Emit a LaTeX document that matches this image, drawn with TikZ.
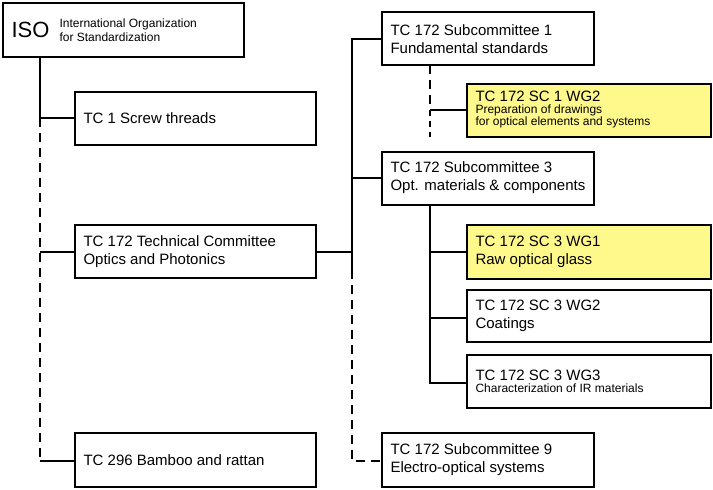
\documentclass[tikz,border=0pt]{standalone}
\usepackage{fontspec}
\setmainfont{Liberation Sans}
\begin{document}
\begin{tikzpicture}[x=1pt,y=-1pt,
 box/.style={draw,thick,fill=white,line width=1.2pt},
 yel/.style={box,fill=yellow!45!white},
 ln/.style={line width=2.2pt},
 dsh/.style={line width=2.2pt,dash pattern=on 9pt off 6pt},
 big/.style={font=\fontsize{15}{18}\selectfont},
 sm/.style={font=\fontsize{12}{14}\selectfont}]
\useasboundingbox (0,0) rectangle (713,490);
% boxes
\draw[box] (3,3) rectangle (244,57);
\node[anchor=west,font=\fontsize{22}{24}\selectfont] (iso) at (8,30) {ISO};
\node[anchor=west,sm,align=left] (isot) at (56,30) {International Organization\\for Standardization};
\coordinate (isob) at (40,57);
\draw[box] (75,92) rectangle (316,145);
\node[anchor=west,big] (tc1) at (80,118) {TC 1 Screw threads};
\draw[box] (75,225) rectangle (316,278);
\node[anchor=west,big,align=left] (tc172) at (80,252) {TC 172 Technical Committee\\Optics and Photonics};
\draw[box] (75,433) rectangle (316,487);
\node[anchor=west,big] (tc296) at (80,460) {TC 296 Bamboo and rattan};
\draw[box] (382,12) rectangle (594,65);
\node[anchor=west,big,align=left] (sc1) at (387,39) {TC 172 Subcommittee 1\\Fundamental standards};
\draw[yel] (467,84) rectangle (711,137);
\node[anchor=west,align=left] (w12) at (472,110) {\fontsize{15}{17}\selectfont TC 172 SC 1 WG2\\\fontsize{12}{14}\selectfont Preparation of drawings\\\fontsize{12}{14}\selectfont for optical elements and systems};
\draw[box] (382,152) rectangle (594,205);
\node[anchor=west,big,align=left] (sc3) at (387,178) {TC 172 Subcommittee 3\\Opt. materials \& components};
\draw[yel] (467,225) rectangle (711,279);
\node[anchor=west,big,align=left] (w31) at (472,252) {TC 172 SC 3 WG1\\Raw optical glass};
\draw[box] (467,290) rectangle (711,342);
\node[anchor=west,big,align=left] (w32) at (472,316) {TC 172 SC 3 WG2\\Coatings};
\draw[box] (467,355) rectangle (711,408);
\node[anchor=west,align=left] (w33) at (472,381) {\fontsize{15}{17}\selectfont TC 172 SC 3 WG3\\\fontsize{12}{14}\selectfont Characterization of IR materials};
\draw[box] (382,433) rectangle (594,487);
\node[anchor=west,big,align=left] (sc9) at (387,460) {TC 172 Subcommittee 9\\Electro-optical systems};
% connectors
\coordinate (l1) at (40,118); \coordinate (l2) at (40,252); \coordinate (l3) at (40,461);
\draw[ln] (isob) -- (l1) -- (75,118);
\draw[dsh] (l1) -- (l3);
\draw[ln] (l2) -- (75,252);
\draw[ln] (l3) -- (75,461);
\coordinate (r0) at (352,39); \coordinate (r2) at (352,270); \coordinate (r3) at (352,461);
\draw[ln] (382,39) -- (r0) -- (r2);
\draw[dsh] (r2) -- (r3) -- (382,461);
\draw[ln] (352,178) -- (382,178);
\draw[ln] (316,252) -- (352,252);
\draw[dsh] (430,65) -- (430,110);
\draw[ln] (430,110) -- (467,110);
\draw[dsh,dash pattern=on 6pt off 5pt] (430,110) -- (430,137);
\draw[ln] (430,205) -- (430,383) -- (467,383);
\draw[ln] (430,252) -- (467,252);
\draw[ln] (430,318) -- (467,318);
\end{tikzpicture}
\end{document}
